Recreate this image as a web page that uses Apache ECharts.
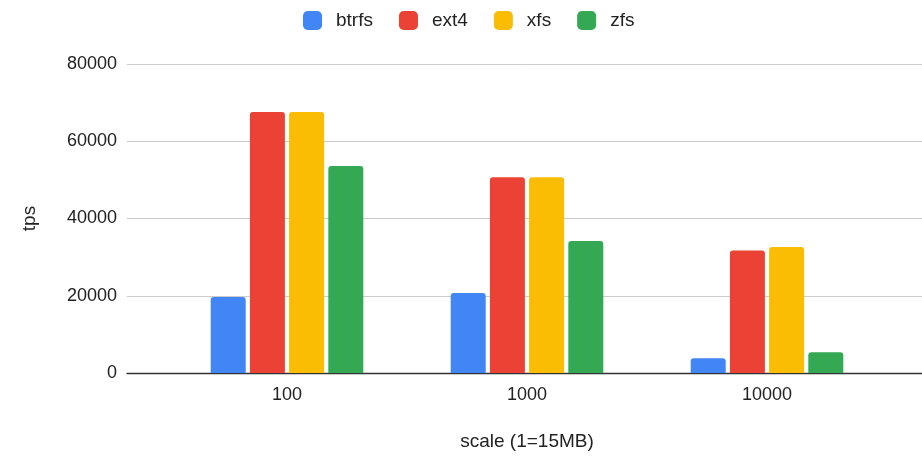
<!DOCTYPE html>
<html>
<head>
<meta charset="utf-8">
<script src="https://cdn.jsdelivr.net/npm/echarts@6/dist/echarts.min.js"></script>
<style>html,body{margin:0;padding:0;background:#fff;}#c{width:922px;height:456px;}</style>
</head>
<body>
<div id="c"></div>
<script>
const categories = ['100', '1000', '10000'];
const seriesNames = ['btrfs', 'ext4', 'xfs', 'zfs'];
const btrfs = [19700, 20700, 3800];
const ext4 = [67600, 50700, 31700];
const xfs = [67600, 50700, 32600];
const zfs = [53600, 34200, 5400];
const yTicks = [0, 20000, 40000, 60000, 80000];
const colors = ['#4285F4', '#EA4335', '#FBBC04', '#34A853'];

const values = [btrfs, ext4, xfs, zfs];
const font = 'Liberation Sans, Arial, sans-serif';
const txt = '#222222';

const chart = echarts.init(document.getElementById('c'), null, {renderer: 'canvas'});
chart.setOption({
  animation: false,
  textStyle: {fontFamily: font},
  color: colors,
  legend: {
    top: 6, left: 298,
    icon: 'roundRect',
    itemWidth: 19, itemHeight: 19,
    itemGap: 26,
    data: seriesNames,
    textStyle: {fontFamily: font, fontSize: 19, color: txt, padding: [0, 0, 0, 9]}
  },
  grid: [
    {left: 127, right: 0, top: 64, bottom: 83},
    {left: 167, right: 35, top: 64, bottom: 83}
  ],
  xAxis: [
    {
      gridIndex: 0, type: 'value', min: 0, max: 1,
      axisLine: {show: true, lineStyle: {color: '#333', width: 1.3}},
      axisTick: {show: false}, axisLabel: {show: false}, splitLine: {show: false}
    },
    {
      gridIndex: 1, type: 'category', data: categories,
      axisLine: {show: false}, axisTick: {show: false},
      axisLabel: {fontFamily: font, fontSize: 18, color: txt, margin: 13},
      name: 'scale (1=15MB)', nameLocation: 'middle', nameGap: 59,
      nameTextStyle: {fontFamily: font, fontSize: 19, color: txt}
    }
  ],
  yAxis: [
    {
      gridIndex: 0, type: 'value', min: yTicks[0], max: yTicks[yTicks.length - 1], interval: yTicks[1] - yTicks[0],
      axisLine: {show: false}, axisTick: {show: false},
      axisLabel: {fontFamily: font, fontSize: 18, color: txt, margin: 10, formatter: v => String(v)},
      splitLine: {lineStyle: {color: '#cccccc', width: 1}},
      name: 'tps', nameLocation: 'middle', nameGap: 88, nameRotate: 90,
      nameTextStyle: {fontFamily: font, fontSize: 19, color: txt}
    },
    {
      gridIndex: 1, type: 'value', min: yTicks[0], max: yTicks[yTicks.length - 1],
      show: false, splitLine: {show: false}
    }
  ],
  series: seriesNames.map((n, i) => ({
    name: n, type: 'bar', xAxisIndex: 1, yAxisIndex: 1,
    data: values[i], barWidth: 35, barGap: '12%',
    itemStyle: {color: colors[i], borderRadius: [3, 3, 0, 0]}
  }))
});
</script>
</body>
</html>
